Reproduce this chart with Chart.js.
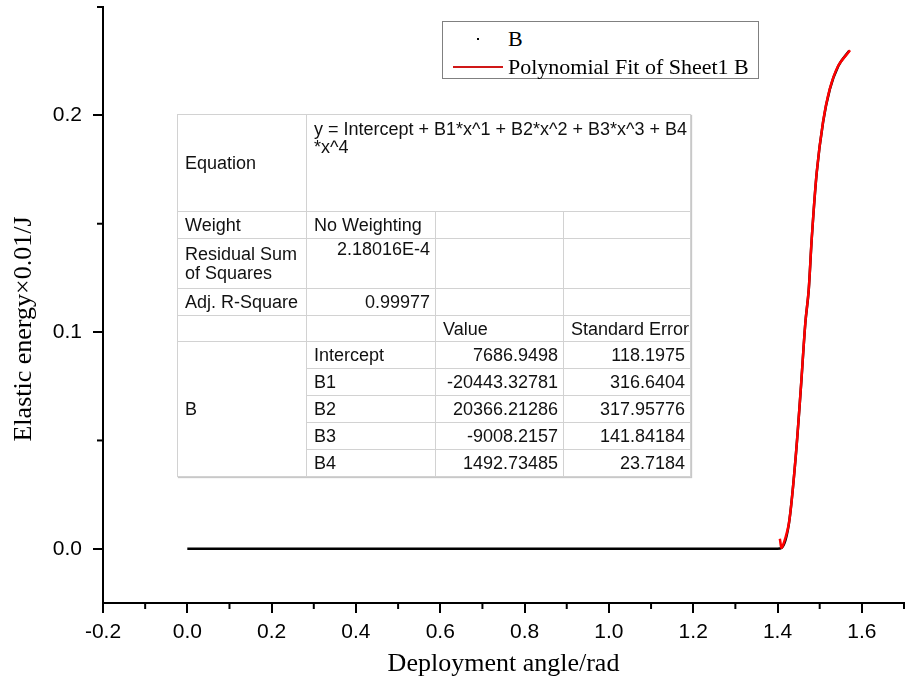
<!DOCTYPE html>
<html>
<head>
<meta charset="utf-8">
<script src="https://cdn.jsdelivr.net/npm/chart.js@4.4.0/dist/chart.umd.min.js"></script>
<style>
  body { margin: 0; background: #fff; }
  #wrap { position: relative; width: 909px; height: 681px; }
  #legend { position: absolute; left: 442px; top: 21px; width: 315px; height: 56px;
            border: 1px solid #808080; background: #fff;
            font-family: "Liberation Serif", "Times New Roman", serif; font-size: 22px; color: #000; }
  #legend .item { position: absolute; left: 0; height: 28px; line-height: 28px; white-space: nowrap; }
  #legend .sym { position: absolute; left: 10px; width: 50px; top: 13px; }
  #legend .txt { position: absolute; left: 65px; top: 0; }
  #fit { position: absolute; left: 177px; top: 114px; width: 513px; border-collapse: collapse;
         table-layout: fixed; background: #fff; border: 1px solid #8a8a8a;
         box-shadow: 1px 1px 1px #c8c8c8;
         font-family: "Liberation Sans", Arial, sans-serif; font-size: 18px; color: #111; }
  #fit td { border: 1px solid #d2d2d2; padding: 0 5px 0 7px; white-space: nowrap;
            overflow: hidden; line-height: 18px; }
  #fit td.num { text-align: right; }
  #fit td.top { vertical-align: top; }
</style>
</head>
<body>
<div id="wrap">
  <canvas id="chart" width="909" height="681"></canvas>
  <div id="legend"></div>
  <table id="fit"></table>
</div>
<script>
const angle  = [0.0, 0.2, 0.4, 0.6, 0.8, 1.0, 1.2, 1.4, 1.41, 1.427, 1.443, 1.455, 1.466, 1.474, 1.481, 1.493, 1.508, 1.524, 1.544, 1.570];
const energy = [0, 0, 0, 0, 0, 0, 0, 0, 0.0005, 0.0116, 0.0421, 0.0731, 0.1042, 0.1194, 0.1426, 0.1736, 0.1968, 0.2120, 0.2227, 0.2298];
const fitAngle  = [1.4055, 1.41, 1.427, 1.443, 1.455, 1.466, 1.474, 1.481, 1.493, 1.508, 1.524, 1.544, 1.572];
const fitEnergy = [0.0046, 0.0005, 0.0118, 0.0423, 0.0733, 0.1044, 0.1196, 0.1428, 0.1738, 0.1970, 0.2122, 0.2229, 0.2300];

const xMajorStep = 0.2;
const yMajorStep = 0.1;

// fit result table
const paramNames  = ['Intercept', 'B1', 'B2', 'B3', 'B4'];
const paramValues = ['7686.9498', '-20443.32781', '20366.21286', '-9008.2157', '1492.73485'];
const paramErrors = ['118.1975', '316.6404', '317.95776', '141.84184', '23.7184'];

const yTitle = 'Elastic energy×0.01/J';
const serif = '"Liberation Serif", "Times New Roman", serif';
const sans = '"Liberation Sans", Arial, sans-serif';

function isMajor(v, step) {
  return Math.abs(v / step - Math.round(v / step)) < 1e-6;
}
function fmt(v) {
  return (Math.abs(v) < 1e-9 ? 0 : v).toFixed(1);
}

// minor ticks + the y title (sits a bit below the axis centre in the original)
const extras = {
  id: 'extras',
  afterDraw(chart) {
    const {ctx, scales: {x, y}} = chart;
    ctx.save();
    ctx.strokeStyle = '#000';
    ctx.lineWidth = 2;
    x.ticks.forEach(t => {
      if (isMajor(t.value, xMajorStep)) return;
      const px = x.getPixelForValue(t.value);
      ctx.beginPath(); ctx.moveTo(px, x.top); ctx.lineTo(px, x.top + 6); ctx.stroke();
    });
    y.ticks.forEach(t => {
      if (isMajor(t.value, yMajorStep) || !isMajor(t.value, 0.05)) return;
      const py = y.getPixelForValue(t.value);
      ctx.beginPath(); ctx.moveTo(y.right, py); ctx.lineTo(y.right - 6, py); ctx.stroke();
    });
    ctx.translate(24, 329);
    ctx.rotate(-Math.PI / 2);
    ctx.fillStyle = '#000';
    ctx.font = '26px ' + serif;
    ctx.textAlign = 'center';
    ctx.textBaseline = 'middle';
    ctx.fillText(yTitle, 0, 0);
    ctx.restore();
  }
};

const chart = new Chart(document.getElementById('chart'), {
  type: 'line',
  data: {
    datasets: [{
      label: 'B',
      data: angle.map((a, i) => ({x: a, y: energy[i]})),
      borderColor: '#000',
      borderWidth: 2.5,
      pointRadius: 0,
      cubicInterpolationMode: 'monotone',
      order: 2
    }, {
      label: 'Polynomial Fit of Sheet1 B',
      data: fitAngle.map((a, i) => ({x: a, y: fitEnergy[i]})),
      borderColor: '#ff0000',
      borderWidth: 2.5,
      pointRadius: 0,
      tension: 0.3,
      order: 1
    }]
  },
  options: {
    responsive: false,
    animation: false,
    layout: { padding: { top: 7, right: 5, left: 0, bottom: 0 } },
    plugins: { legend: { display: false }, tooltip: { enabled: false } },
    scales: {
      x: {
        type: 'linear',
        min: -0.2, max: 1.7,
        afterFit: s => { s.height = 78; s.paddingLeft = 0; s.paddingRight = 0; },
        border: { display: true, color: '#000', width: 2 },
        grid: {
          drawOnChartArea: false, tickLength: 10, lineWidth: 2,
          color: c => isMajor(c.tick.value, xMajorStep) ? '#000' : 'rgba(0,0,0,0)'
        },
        ticks: {
          stepSize: 0.1, autoSkip: false, maxRotation: 0, padding: 7, color: '#000',
          font: { family: sans, size: 21 },
          callback: v => isMajor(v, xMajorStep) ? fmt(v) : ''
        },
        title: {
          display: true, text: 'Deployment angle/rad', color: '#000',
          font: { family: serif, size: 26 },
          padding: { top: 0, bottom: 1 }
        }
      },
      y: {
        min: -0.025, max: 0.25,
        afterFit: s => { s.width = 103; s.paddingTop = 0; s.paddingBottom = 0; },
        border: { display: true, color: '#000', width: 2 },
        grid: {
          drawOnChartArea: false, tickLength: 10, lineWidth: 2,
          color: c => isMajor(c.tick.value, yMajorStep) ? '#000' : 'rgba(0,0,0,0)'
        },
        ticks: {
          stepSize: 0.05, autoSkip: false, padding: 11, color: '#000',
          font: { family: sans, size: 21 },
          callback: v => isMajor(v, yMajorStep) ? fmt(v) : ''
        }
      }
    }
  },
  plugins: [extras]
});

// legend built from the datasets
const legend = document.getElementById('legend');
chart.data.datasets.forEach((ds, i) => {
  const item = document.createElement('div');
  item.className = 'item';
  item.style.top = (3 + i * 28) + 'px';
  item.style.width = '100%';
  const sym = document.createElement('div');
  sym.className = 'sym';
  if (i === 0) {
    sym.innerHTML = '<div style="margin-left:24px;width:2px;height:2px;background:' + ds.borderColor + '"></div>';
  } else {
    sym.innerHTML = '<div style="height:2px;background:#d01818"></div>';
  }
  const txt = document.createElement('div');
  txt.className = 'txt';
  txt.textContent = ds.label;
  item.appendChild(sym);
  item.appendChild(txt);
  legend.appendChild(item);
});

// fit parameter table
const rows = [];
rows.push('<colgroup><col style="width:129px"><col style="width:129px"><col style="width:128px"><col style="width:127px"></colgroup>');
rows.push('<tr style="height:97px"><td>Equation</td><td class="top" colspan="3" style="padding-top:5px;overflow:visible">y = Intercept + B1*x^1 + B2*x^2 + B3*x^3 + B4<br>*x^4</td></tr>');
rows.push('<tr style="height:27px"><td>Weight</td><td>No Weighting</td><td></td><td></td></tr>');
rows.push('<tr style="height:50px"><td style="line-height:19px">Residual Sum<br>of Squares</td><td class="num top" style="padding-top:1px">2.18016E-4</td><td></td><td></td></tr>');
rows.push('<tr style="height:27px"><td>Adj. R-Square</td><td class="num">0.99977</td><td></td><td></td></tr>');
rows.push('<tr style="height:26px"><td></td><td></td><td>Value</td><td>Standard Error</td></tr>');
paramNames.forEach((n, i) => {
  rows.push('<tr style="height:27px">' + (i === 0 ? '<td rowspan="5">B</td>' : '') +
    '<td>' + n + '</td><td class="num">' + paramValues[i] + '</td><td class="num">' + paramErrors[i] + '</td></tr>');
});
document.getElementById('fit').innerHTML = rows.join('');
</script>
</body>
</html>
